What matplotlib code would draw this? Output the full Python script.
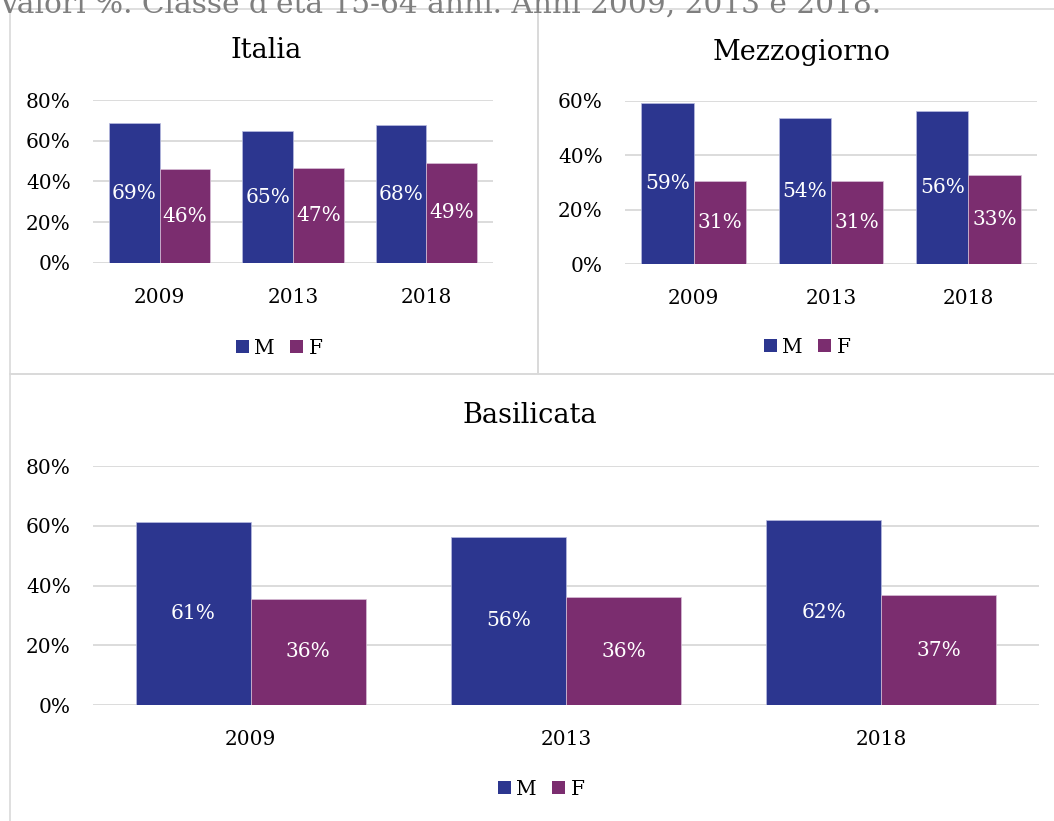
import matplotlib
matplotlib.use("Agg")
import matplotlib.pyplot as plt
from matplotlib.patches import Rectangle, Patch
import numpy as np

plt.rcParams["font.family"] = ["DejaVu Serif"]

anni = ["2009", "2013", "2018"]
serie = ["M", "F"]

italia_m = [68.6, 64.6, 67.6]
italia_f = [46.1, 46.6, 49.3]
mezzo_m = [59.2, 53.7, 56.4]
mezzo_f = [30.7, 30.7, 32.8]
basil_m = [61.3, 56.3, 61.8]
basil_f = [35.6, 36.0, 36.8]

titoli = ["Italia", "Mezzogiorno", "Basilicata"]
sopra = "Valori %. Classe d'età 15-64 anni. Anni 2009, 2013 e 2018."

COL_M = "#2C368F"
COL_F = "#7B2D6F"
GRID = "#D9D9D9"
FS = 14.5

W, H = 1054, 821
fig = plt.figure(figsize=(W / 100, H / 100), dpi=100)


def px_axes(x0, y_top, x1, y_bot):
    return fig.add_axes([x0 / W, 1 - y_bot / H, (x1 - x0) / W, (y_bot - y_top) / H])


def box(x0, y0, x1, y1):
    fig.patches.append(Rectangle((x0 / W, 1 - y1 / H), (x1 - x0) / W, (y1 - y0) / H,
                                 transform=fig.transFigure, fill=False,
                                 edgecolor=GRID, linewidth=1.2))


def pannello(ax, m, f, ymax, bw):
    x = np.arange(len(anni))
    bm = ax.bar(x - bw / 2, m, bw, color=COL_M, edgecolor="#B8BCE0", linewidth=0.5, zorder=3)
    bf = ax.bar(x + bw / 2, f, bw, color=COL_F, edgecolor="#D8C0D8", linewidth=0.5, zorder=3)
    for bars in (bm, bf):
        for b in bars:
            v = b.get_height()
            ax.text(b.get_x() + b.get_width() / 2, v / 2, f"{v:.0f}%", ha="center",
                    va="center", color="white", fontsize=FS, zorder=4)
    ax.set_xlim(-0.5, len(anni) - 0.5)
    ax.set_ylim(0, ymax)
    ax.set_yticks(np.arange(0, ymax + 1, 20))
    ax.set_yticklabels([f"{int(t)}%" for t in np.arange(0, ymax + 1, 20)])
    ax.set_xticks(x)
    ax.set_xticklabels(anni)
    ax.tick_params(length=0, labelsize=FS)
    ax.tick_params(axis="y", pad=16)
    ax.tick_params(axis="x", pad=18)
    for s in ax.spines.values():
        s.set_visible(False)
    ax.yaxis.grid(True, color=GRID, linewidth=1.3, zorder=0)
    ax.set_axisbelow(True)


# cornici dei pannelli
box(9.5, 9.5, 538, 374)
box(538, 9.5, 1070, 374)
box(9.5, 374, 1070, 840)

fig.text(-2 / W, 1 - 13 / H, sopra, fontsize=21.3, color="#7F7F7F", ha="left", va="baseline")

ax1 = px_axes(93, 100, 493, 263)
pannello(ax1, italia_m, italia_f, 80, 0.38)
ax2 = px_axes(625, 101, 1037, 264)
pannello(ax2, mezzo_m, mezzo_f, 60, 0.38)
ax3 = px_axes(93, 466, 1039, 705)
pannello(ax3, basil_m, basil_f, 80, 0.365)

for t, (cx, cy) in zip(titoli, [(266, 50), (802, 52), (530, 415)]):
    fig.text(cx / W, 1 - cy / H, t, fontsize=19.5, ha="center", va="center")

handles = [Patch(facecolor=COL_M), Patch(facecolor=COL_F)]
for cx, cy in [(279, 348), (807, 347), (541, 789)]:
    fig.legend(handles, serie, loc="center", bbox_to_anchor=(cx / W, 1 - cy / H),
               ncol=2, frameon=False, fontsize=FS, handlelength=0.65, handleheight=0.65,
               handletextpad=0.25, columnspacing=0.8, borderpad=0)

fig.savefig("out.png", dpi=100)
